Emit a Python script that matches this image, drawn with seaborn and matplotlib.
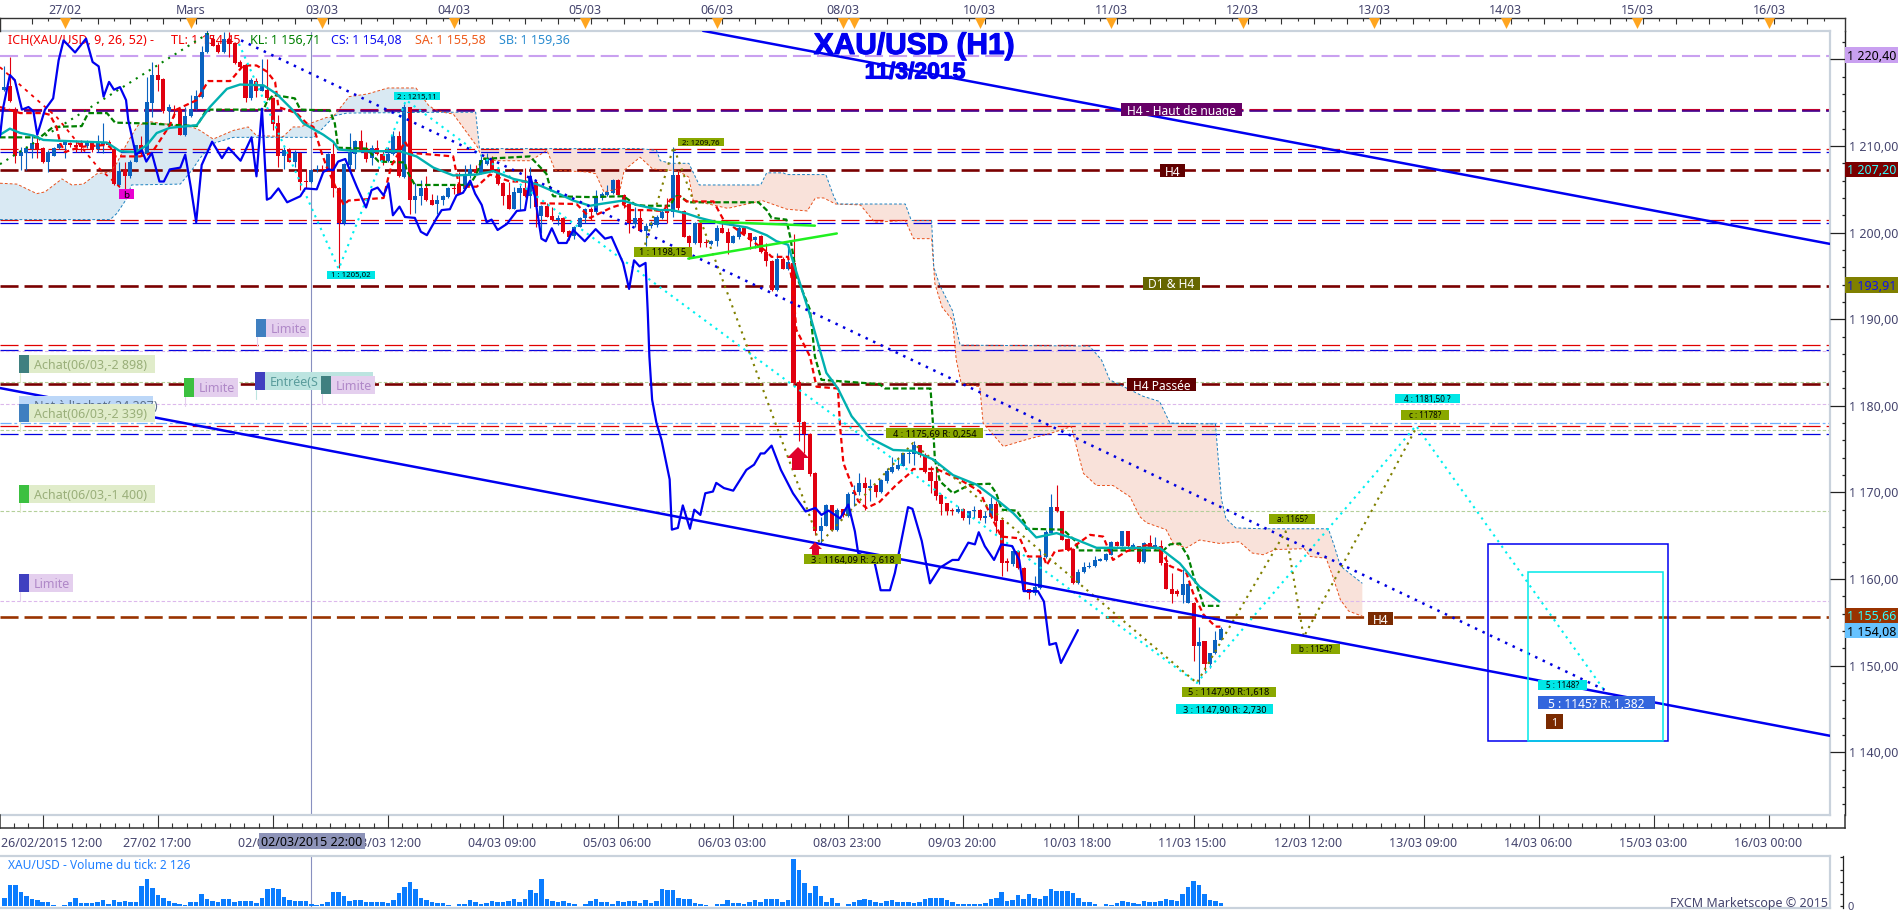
"""XAU/USD (H1) Marketscope chart, 11/3/2015: candles, Ichimoku, wave counts and tick volume."""

import matplotlib

matplotlib.use("Agg")

import matplotlib.patheffects as pe
import matplotlib.pyplot as plt
import numpy as np
import seaborn as sns
from matplotlib.patches import Polygon, Rectangle

# Candles, one per hour bar: body top/bottom, wick top/bottom, b = up, r = down
candle_dir = (
    "brrbbbrrbb" "bbrrrbrbbr" "rbrbbrbbrr" "brrbbbbbrr" "brrrrbrbrr" "rbrbrrbbrb" "rrbbbrrbrr" "bbrbrbbrrb"
    "bbrrbbrbbr" "rrrbbrbrbr" "rbrrbbbrbb" "bbrrrbrbbb" "brbrrrbrrb" "brrbbrrbrr" "rbrbrrrrrb" "brbrbbbrbr"
    "bbbbbbbrrr" "rrrrbrbbrb" "brrrbrrrbb" "bbrrrrbbbb" "bbbrbrbrbr" "brrrrbbrbr" "bbb"
)
body_top = [
    1216.8, 1216.9, 1214.2, 1209.3, 1209.8, 1210.3, 1210.3, 1209.8, 1209.3, 1209.8,
    1210.2, 1210.5, 1210.3, 1210.1, 1210.4, 1210.5, 1210.3, 1210.3, 1210.5, 1210.5,
    1209.6, 1207.1, 1207.2, 1208.2, 1210.1, 1210.1, 1215.1, 1218.2, 1218.2, 1217.7,
    1214.5, 1214.3, 1214.2, 1213.5, 1214.3, 1215.8, 1220.8, 1223.0, 1222.4, 1221.7,
    1222.4, 1222.4, 1221.9, 1219.7, 1219.3, 1217.6, 1217.5, 1217.0, 1216.5, 1215.5,
    1212.6, 1209.5, 1209.6, 1209.2, 1209.2, 1205.9, 1207.2, 1207.4, 1207.3, 1209.1,
    1209.1, 1205.2, 1207.9, 1209.3, 1210.6, 1210.6, 1209.5, 1209.8, 1209.8, 1209.1,
    1209.1, 1211.1, 1211.1, 1214.5, 1214.5, 1204.2, 1205.2, 1205.2, 1203.8, 1203.8,
    1204.2, 1205.2, 1205.2, 1205.6, 1206.8, 1207.3, 1207.3, 1208.4, 1208.6, 1208.6,
    1207.4, 1205.7, 1204.3, 1204.7, 1205.2, 1205.2, 1206.5, 1205.9, 1203.1, 1203.1,
    1201.9, 1201.7, 1201.7, 1200.2, 1200.7, 1201.7, 1202.7, 1202.7, 1204.2, 1204.5,
    1204.7, 1206.1, 1206.1, 1204.3, 1203.3, 1201.7, 1201.7, 1200.8, 1201.1, 1201.8,
    1202.4, 1202.6, 1206.7, 1206.7, 1202.5, 1199.6, 1201.1, 1201.1, 1198.9, 1199.0,
    1200.5, 1200.5, 1200.1, 1199.6, 1200.5, 1200.5, 1199.9, 1199.5, 1199.6, 1197.8,
    1196.7, 1196.9, 1196.9, 1196.6, 1196.5, 1182.7, 1178.1, 1176.8, 1172.2, 1166.1,
    1168.5, 1168.5, 1168.0, 1168.1, 1169.8, 1170.1, 1171.1, 1171.1, 1170.7, 1170.8,
    1171.4, 1172.5, 1172.9, 1173.2, 1174.5, 1174.5, 1175.5, 1175.5, 1174.3, 1172.4,
    1171.3, 1169.7, 1168.8, 1167.9, 1168.1, 1168.1, 1167.8, 1168.0, 1168.0, 1167.2,
    1168.7, 1168.7, 1166.8, 1162.1, 1163.2, 1163.2, 1161.3, 1158.8, 1159.1, 1162.5,
    1165.4, 1168.3, 1168.3, 1167.8, 1164.6, 1163.5, 1160.8, 1161.4, 1161.5, 1162.2,
    1162.3, 1162.9, 1164.3, 1164.3, 1165.5, 1165.5, 1163.9, 1163.8, 1164.1, 1164.1,
    1163.9, 1163.8, 1161.9, 1158.9, 1158.6, 1159.4, 1159.4, 1157.2, 1152.7, 1152.8,
    1151.5, 1153.0, 1154.2,
]
body_bottom = [
    1216.5, 1215.2, 1208.9, 1208.9, 1209.2, 1209.6, 1209.6, 1208.1, 1208.1, 1208.9,
    1209.8, 1210.1, 1210.1, 1209.9, 1209.9, 1210.0, 1209.5, 1209.6, 1210.1, 1210.1,
    1205.6, 1205.5, 1206.5, 1206.5, 1208.2, 1209.1, 1209.1, 1215.0, 1217.6, 1214.0,
    1214.0, 1214.2, 1211.3, 1211.3, 1213.5, 1214.3, 1215.7, 1220.8, 1221.5, 1220.8,
    1220.8, 1221.8, 1219.6, 1219.1, 1215.5, 1215.5, 1216.3, 1216.3, 1215.5, 1212.5,
    1208.8, 1208.9, 1208.2, 1208.2, 1205.8, 1205.8, 1205.8, 1207.2, 1207.2, 1207.3,
    1205.1, 1201.1, 1201.1, 1207.8, 1209.1, 1209.4, 1208.5, 1208.6, 1209.1, 1208.3,
    1208.3, 1209.1, 1206.5, 1206.4, 1203.8, 1203.8, 1204.2, 1203.8, 1203.2, 1203.3,
    1203.8, 1204.1, 1205.0, 1204.5, 1205.0, 1206.8, 1206.9, 1206.9, 1207.9, 1207.2,
    1205.6, 1204.2, 1202.7, 1202.7, 1204.6, 1204.2, 1204.2, 1203.0, 1201.9, 1201.8,
    1201.4, 1201.4, 1200.1, 1199.5, 1199.6, 1200.7, 1201.7, 1202.4, 1202.4, 1204.0,
    1204.3, 1204.6, 1204.3, 1203.3, 1201.1, 1201.0, 1200.2, 1200.2, 1200.8, 1200.9,
    1201.7, 1202.3, 1202.4, 1202.8, 1199.5, 1198.8, 1198.8, 1198.8, 1198.8, 1198.7,
    1199.0, 1200.0, 1198.8, 1198.8, 1199.5, 1199.8, 1199.2, 1199.2, 1197.8, 1196.7,
    1193.4, 1193.4, 1195.8, 1195.8, 1182.6, 1178.1, 1176.8, 1172.1, 1165.6, 1165.6,
    1166.1, 1165.7, 1165.7, 1167.4, 1167.3, 1169.8, 1170.0, 1170.5, 1170.5, 1170.1,
    1170.1, 1171.3, 1172.4, 1172.7, 1173.1, 1174.4, 1174.4, 1174.3, 1172.3, 1171.3,
    1169.6, 1168.7, 1167.8, 1167.8, 1167.7, 1167.1, 1167.1, 1167.8, 1167.0, 1167.1,
    1167.2, 1166.7, 1161.9, 1161.8, 1161.7, 1161.3, 1158.7, 1158.4, 1158.4, 1159.0,
    1162.5, 1165.3, 1167.8, 1164.5, 1163.3, 1159.5, 1159.5, 1160.8, 1161.4, 1161.5,
    1162.1, 1162.2, 1162.8, 1163.8, 1163.8, 1163.8, 1163.7, 1162.0, 1162.0, 1163.7,
    1163.7, 1161.8, 1158.9, 1158.3, 1158.3, 1158.2, 1157.2, 1152.3, 1152.3, 1150.2,
    1150.2, 1151.4, 1152.9,
]
wick_top = [
    1219.2, 1220.3, 1214.5, 1209.9, 1209.9, 1211.3, 1211.1, 1209.9, 1209.5, 1209.9,
    1210.3, 1210.6, 1210.5, 1210.7, 1210.7, 1210.7, 1210.5, 1211.3, 1212.6, 1210.7,
    1209.9, 1208.2, 1208.2, 1208.4, 1210.1, 1211.1, 1218.0, 1219.7, 1219.5, 1217.8,
    1214.8, 1214.7, 1214.3, 1214.5, 1215.9, 1216.5, 1221.5, 1223.4, 1222.8, 1222.0,
    1223.2, 1223.2, 1222.0, 1219.9, 1219.5, 1217.8, 1217.8, 1220.1, 1220.1, 1215.7,
    1213.6, 1209.9, 1209.8, 1209.5, 1209.3, 1207.2, 1207.4, 1207.8, 1207.8, 1209.2,
    1210.3, 1205.3, 1208.0, 1211.5, 1210.7, 1211.8, 1210.5, 1210.1, 1210.7, 1209.5,
    1209.9, 1211.7, 1211.7, 1214.9, 1214.5, 1205.7, 1206.1, 1206.5, 1204.5, 1204.3,
    1204.3, 1205.3, 1205.5, 1207.0, 1207.8, 1207.9, 1207.8, 1209.0, 1209.2, 1208.8,
    1207.5, 1205.9, 1205.9, 1205.3, 1205.5, 1207.5, 1207.6, 1206.1, 1203.2, 1203.4,
    1203.0, 1202.0, 1201.8, 1200.3, 1200.8, 1201.8, 1202.8, 1202.9, 1204.9, 1204.7,
    1205.5, 1206.2, 1206.2, 1204.5, 1203.4, 1203.0, 1202.6, 1201.1, 1201.3, 1202.0,
    1202.6, 1204.0, 1209.9, 1207.2, 1202.6, 1199.7, 1201.2, 1201.2, 1199.3, 1199.2,
    1200.9, 1201.1, 1200.5, 1199.7, 1200.9, 1200.7, 1200.0, 1199.6, 1199.7, 1198.8,
    1196.8, 1197.6, 1197.2, 1198.4, 1199.8, 1183.0, 1178.2, 1176.9, 1172.3, 1167.2,
    1168.7, 1168.6, 1168.2, 1168.1, 1170.1, 1170.9, 1172.2, 1171.8, 1171.6, 1170.9,
    1171.5, 1172.8, 1174.1, 1174.1, 1174.5, 1174.9, 1175.9, 1175.5, 1174.5, 1173.0,
    1173.0, 1169.8, 1168.8, 1168.2, 1168.4, 1168.2, 1167.8, 1168.4, 1168.1, 1167.8,
    1169.5, 1169.0, 1166.8, 1162.4, 1163.4, 1163.4, 1161.4, 1158.8, 1160.3, 1163.4,
    1165.7, 1169.8, 1170.8, 1167.8, 1164.7, 1163.6, 1161.1, 1162.0, 1162.0, 1162.6,
    1162.4, 1163.0, 1164.4, 1164.4, 1165.5, 1165.5, 1164.2, 1163.8, 1164.3, 1165.1,
    1164.9, 1164.5, 1162.8, 1160.7, 1158.8, 1161.1, 1159.5, 1157.4, 1154.4, 1152.8,
    1151.5, 1154.0, 1154.5,
]
wick_bottom = [
    1216.4, 1215.1, 1208.0, 1207.2, 1207.2, 1208.6, 1208.6, 1208.0, 1207.0, 1208.8,
    1209.7, 1208.6, 1209.9, 1209.3, 1209.3, 1209.8, 1209.3, 1209.3, 1209.2, 1209.9,
    1205.5, 1205.3, 1205.0, 1206.3, 1208.2, 1209.0, 1209.0, 1213.4, 1216.3, 1213.8,
    1212.2, 1213.4, 1211.3, 1211.2, 1213.3, 1214.2, 1215.5, 1220.7, 1221.5, 1220.7,
    1220.7, 1220.3, 1219.5, 1219.0, 1215.1, 1215.3, 1215.7, 1216.3, 1215.3, 1211.8,
    1207.6, 1207.4, 1208.1, 1207.6, 1204.9, 1205.1, 1205.7, 1207.0, 1207.2, 1207.2,
    1204.1, 1195.9, 1200.9, 1207.4, 1207.4, 1209.3, 1208.2, 1207.8, 1209.0, 1207.8,
    1208.2, 1209.0, 1206.4, 1206.3, 1202.2, 1202.3, 1203.2, 1203.7, 1203.2, 1202.2,
    1203.2, 1204.0, 1204.5, 1204.5, 1204.9, 1206.3, 1206.8, 1206.8, 1207.8, 1207.0,
    1205.5, 1203.2, 1202.7, 1202.7, 1202.6, 1204.1, 1202.8, 1200.7, 1199.9, 1201.8,
    1201.3, 1200.9, 1200.0, 1199.2, 1199.3, 1200.6, 1201.1, 1201.5, 1202.2, 1203.8,
    1204.2, 1204.5, 1204.3, 1202.8, 1200.0, 1200.7, 1200.2, 1198.4, 1200.5, 1200.7,
    1201.6, 1201.1, 1201.8, 1202.6, 1199.5, 1197.0, 1198.7, 1198.3, 1198.3, 1198.6,
    1198.5, 1199.9, 1197.5, 1198.8, 1199.3, 1199.7, 1198.1, 1198.2, 1197.6, 1196.1,
    1193.3, 1193.3, 1195.8, 1195.7, 1182.4, 1175.9, 1174.5, 1171.9, 1165.1, 1164.1,
    1166.1, 1165.6, 1165.6, 1167.2, 1167.2, 1168.4, 1169.7, 1168.0, 1169.0, 1169.5,
    1169.9, 1171.1, 1172.2, 1172.6, 1173.0, 1173.4, 1173.2, 1174.1, 1172.2, 1169.9,
    1169.1, 1167.4, 1167.4, 1167.4, 1167.6, 1166.8, 1166.3, 1167.0, 1166.8, 1166.5,
    1167.0, 1165.3, 1160.3, 1160.9, 1161.5, 1161.1, 1158.6, 1157.7, 1158.2, 1158.8,
    1162.4, 1165.2, 1167.7, 1164.5, 1163.2, 1159.4, 1159.4, 1160.7, 1161.3, 1161.4,
    1162.1, 1162.1, 1162.8, 1163.8, 1163.8, 1163.7, 1163.6, 1161.9, 1161.9, 1163.6,
    1163.4, 1161.6, 1158.8, 1157.2, 1158.0, 1157.2, 1157.2, 1150.5, 1147.9, 1149.2,
    1149.7, 1151.3, 1152.9,
]

# Tick volume, in hundreds of ticks
volume_hundreds = [
    66, 173, 173, 116, 83, 55, 50, 33, 33, 8, 3, 11, 33, 66, 25, 25, 25, 33, 50, 17, 50, 33, 39, 33, 33,
    165, 223, 149, 91, 66, 44, 25, 17, 8, 33, 33, 99, 55, 41, 33, 58, 58, 33, 41, 41, 39, 25, 66, 140, 149,
    143, 74, 47, 41, 41, 41, 17, 6, 17, 33, 116, 116, 83, 41, 47, 50, 33, 33, 33, 33, 25, 50, 107, 157, 198,
    140, 66, 47, 33, 25, 25, 8, 3, 17, 17, 50, 33, 17, 25, 41, 33, 33, 41, 55, 33, 55, 132, 107, 223, 58,
    44, 33, 41, 25, 17, 3, 17, 39, 58, 33, 33, 17, 41, 33, 41, 41, 25, 50, 25, 41, 140, 135, 135, 66, 58,
    58, 25, 17, 8, 3, 17, 17, 50, 25, 25, 17, 33, 50, 33, 58, 58, 58, 33, 50, 388, 297, 190, 107, 165, 83,
    33, 66, 25, 3, 17, 33, 50, 58, 50, 33, 25, 41, 50, 33, 33, 33, 25, 33, 58, 66, 66, 66, 47, 36,
    17, 17, 17, 17, 17, 25, 58, 66, 116, 41, 50, 91, 58, 99, 66, 58, 83, 140, 124, 124, 124, 107, 66, 33,
    33, 17, 3, 17, 8, 25, 41, 33, 25, 17, 41, 33, 33, 41, 58, 50, 41, 99, 157, 206, 173, 99, 50, 41, 21,
]

# Ichimoku and moving average, hour / price
chikou_hours = [
    -0.8, -0.2, 1.0, 1.9, 3.2, 4.4, 5.3, 6.0, 7.4, 8.9, 9.9, 10.8, 12.9, 14.9, 16.1, 17.2, 18.1, 19.1, 20.0, 21.1,
    22.2, 22.6, 24.0, 25.1, 25.9, 26.9, 28.3, 29.1, 30.2, 32.1, 33.0, 34.0, 35.0, 36.0, 37.9, 39.7, 40.9, 43.1,
    45.1, 46.0, 47.0, 47.9, 48.6, 50.0, 51.6, 54.0, 54.9, 57.0, 58.2, 59.1, 60.0, 60.9, 62.2, 64.3, 66.0, 67.0,
    68.1, 69.2, 70.1, 70.9, 72.1, 73.1, 74.9, 76.0, 77.1, 78.9, 79.8, 81.3, 82.5, 83.7, 85.0, 85.9, 87.1, 88.0,
    88.9, 90.0, 91.7, 93.5, 95.0, 96.0, 96.8, 98.0, 98.8, 99.9, 101.1, 102.6, 103.8, 105.9, 107.9, 109.6, 110.8,
    112.9, 114.0, 114.9, 115.9, 117.0, 117.4, 117.7, 118.2, 119.0, 119.9, 121.4, 121.8, 122.9, 123.8, 125.1,
    125.9, 127.0, 127.9, 129.3, 129.9, 131.3, 133.0, 135.4, 136.8, 138.0, 138.7, 140.0, 141.7, 143.9, 146.2,
    148.0, 149.1, 150.4, 152.5, 154.0, 155.2, 155.8, 158.8, 159.9, 161.6, 162.5, 164.9, 165.7, 167.4, 168.9,
    170.7, 173.0, 174.1, 175.9, 177.1, 177.8, 178.9, 180.6, 181.9, 183.9, 185.2, 186.0, 188.6, 189.7, 190.7,
    191.9, 192.8, 195.9,
]
chikou_price = [
    1211.1, 1214.5, 1218.2, 1217.6, 1214.2, 1214.5, 1214.0, 1211.3, 1214.2, 1215.5, 1219.9, 1222.2, 1220.8, 1222.4,
    1219.7, 1219.2, 1215.7, 1217.4, 1216.5, 1216.8, 1215.3, 1213.0, 1209.0, 1209.5, 1208.2, 1209.2, 1205.9, 1205.9,
    1207.3, 1207.5, 1209.0, 1205.3, 1201.2, 1207.8, 1210.5, 1208.6, 1209.8, 1208.3, 1211.0, 1206.5, 1214.3, 1203.8,
    1204.0, 1205.1, 1203.5, 1204.2, 1205.1, 1205.0, 1207.0, 1207.3, 1207.2, 1208.2, 1208.5, 1205.3, 1202.9, 1204.9,
    1205.2, 1204.3, 1205.7, 1202.0, 1203.0, 1201.8, 1201.7, 1200.1, 1199.7, 1201.7, 1202.6, 1202.7, 1204.3, 1204.6,
    1206.0, 1204.5, 1203.2, 1201.2, 1201.5, 1200.3, 1201.0, 1202.5, 1202.6, 1206.5, 1204.2, 1199.3, 1199.0, 1200.5,
    1198.8, 1198.8, 1200.3, 1199.0, 1200.4, 1199.3, 1199.5, 1196.5, 1193.5, 1196.8, 1196.1, 1196.5, 1190.9, 1185.7,
    1180.7, 1178.0, 1176.1, 1171.5, 1165.7, 1165.9, 1168.5, 1165.8, 1168.0, 1167.4, 1169.9, 1170.1, 1171.1, 1170.5,
    1170.2, 1172.6, 1173.2, 1174.5, 1174.5, 1175.4, 1172.6, 1169.9, 1167.8, 1168.2, 1167.4, 1167.9, 1167.0, 1168.6,
    1165.5, 1163.0, 1161.9, 1158.7, 1158.7, 1160.7, 1168.3, 1168.1, 1164.4, 1159.5, 1161.3, 1162.2, 1162.2, 1164.2,
    1164.0, 1165.4, 1163.8, 1162.2, 1164.0, 1163.8, 1162.2, 1158.6, 1158.6, 1157.4, 1152.4, 1152.6, 1150.3, 1154.1,
]
average_hours = [
    -0.8, 1.0, 2.9, 5.3, 7.1, 10.2, 14.4, 18.7, 21.1, 24.1, 26.0, 27.8, 30.2, 35.1, 37.5, 40.6, 43.0, 47.3, 49.7,
    52.7, 54.6, 58.2, 60.0, 61.0, 64.3, 68.0, 72.2, 75.2, 78.3, 81.9, 86.2, 89.2, 92.9, 97.1, 100.8, 103.8, 106.9,
    108.7, 112.9, 115.4, 119.6, 121.8, 124.5, 126.9, 130.6, 135.5, 139.1, 140.9, 143.0, 143.9, 147.0, 150.0, 152.1,
    154.6, 157.9, 162.2, 165.8, 169.5, 173.1, 177.4, 181.0, 184.1, 188.3, 192.0, 195.0, 199.3, 205.4, 210.8, 214.5,
    218.1, 221.7,
]
average_price = [
    1211.3, 1212.0, 1211.5, 1211.2, 1210.7, 1210.6, 1210.5, 1210.4, 1209.4, 1209.3, 1210.1, 1211.5, 1212.1, 1212.4,
    1214.5, 1216.6, 1217.1, 1217.0, 1216.0, 1214.1, 1212.6, 1211.3, 1210.5, 1209.6, 1209.4, 1209.4, 1209.4, 1208.8,
    1207.5, 1206.6, 1206.7, 1207.1, 1206.2, 1205.6, 1204.6, 1203.7, 1203.1, 1203.3, 1203.7, 1203.2, 1202.6, 1202.6,
    1202.2, 1201.7, 1201.1, 1200.6, 1199.7, 1199.0, 1198.6, 1196.7, 1190.5, 1183.8, 1182.0, 1178.8, 1176.3, 1174.9,
    1174.8, 1173.8, 1172.0, 1170.9, 1169.2, 1167.6, 1164.8, 1165.3, 1164.7, 1163.6, 1163.6, 1163.6, 1161.8, 1159.1,
    1157.4,
]
tenkan_hours = [
    -0.8, 2.9, 7.1, 8.3, 9.5, 10.2, 11.1, 13.8, 18.1, 19.3, 20.2, 24.8, 26.9, 30.2, 31.4, 35.1, 37.2, 41.2, 43.6,
    46.0, 47.9, 49.4, 50.0, 53.3, 55.2, 56.4, 57.9, 58.8, 61.9, 62.8, 69.2, 70.1, 70.7, 73.1, 74.3, 81.9, 82.5,
    83.1, 86.2, 88.6, 92.3, 96.2, 97.1, 104.4, 106.9, 110.8, 112.9, 114.2, 117.0, 120.3, 121.5, 123.3, 124.5,
    129.4, 131.2, 135.5, 139.1, 140.0, 143.0, 143.9, 144.5, 147.0, 148.2, 152.1, 152.5, 153.1, 154.6, 155.8,
    157.3, 159.7, 162.8, 165.2, 165.8, 170.1, 174.3, 178.0, 179.2, 181.9, 185.3, 186.8, 189.6, 190.2, 191.7, 194.4,
    198.1, 200.5, 202.3, 204.8, 208.4, 210.8, 212.7, 215.7, 216.9, 218.8, 221.0, 221.9,
]
tenkan_price = [
    1214.5, 1213.8, 1213.8, 1213.6, 1212.2, 1210.3, 1209.3, 1209.9, 1210.1, 1209.9, 1208.8, 1208.8, 1209.2, 1212.4,
    1214.2, 1215.3, 1217.5, 1217.5, 1219.3, 1219.3, 1218.6, 1217.4, 1214.5, 1213.8, 1212.6, 1212.2, 1209.2, 1207.6,
    1203.2, 1203.7, 1204.0, 1206.5, 1207.8, 1210.5, 1209.2, 1208.8, 1206.8, 1205.3, 1205.3, 1206.7, 1205.9, 1205.9,
    1203.4, 1203.3, 1201.7, 1202.9, 1203.3, 1202.6, 1202.6, 1202.5, 1203.8, 1204.2, 1203.6, 1203.6, 1201.5, 1199.5,
    1197.8, 1197.2, 1197.2, 1193.8, 1188.8, 1185.7, 1182.2, 1182.0, 1177.6, 1173.4, 1170.9, 1169.0, 1168.2, 1168.9,
    1170.9, 1172.2, 1172.7, 1172.7, 1171.5, 1170.1, 1168.4, 1164.9, 1164.7, 1162.6, 1162.6, 1161.6, 1163.2, 1163.4,
    1165.1, 1164.9, 1162.2, 1163.2, 1163.9, 1163.4, 1161.5, 1160.7, 1158.4, 1155.9, 1154.5, 1154.5,
]
kijun_hours = [
    -0.8, 6.5, 8.9, 14.1, 15.3, 18.7, 20.2, 26.0, 35.1, 36.9, 47.3, 47.9, 49.1, 53.0, 54.0, 59.4, 60.3, 60.9, 66.1,
    68.3, 73.1, 73.4, 74.9, 84.9, 86.2, 87.1, 95.9, 98.9, 99.9, 100.2, 106.9, 113.0, 115.2, 117.0, 121.5, 122.4,
    123.3, 124.8, 137.6, 139.1, 140.0, 142.7, 143.4, 144.6, 147.0, 147.9, 149.1, 159.7, 160.7, 169.0, 169.4, 169.8,
    170.7, 173.1, 176.2, 179.8, 181.0, 182.0, 184.7, 186.2, 186.5, 193.2, 195.6, 195.9, 211.5, 212.7, 214.5, 216.0,
    217.2, 218.4, 218.8, 221.7,
]
kijun_price = [
    1211.0, 1211.0, 1212.2, 1212.3, 1213.8, 1213.8, 1212.7, 1212.6, 1212.3, 1214.2, 1214.2, 1215.1, 1215.9, 1215.5,
    1214.2, 1214.1, 1212.6, 1209.8, 1209.7, 1208.2, 1208.1, 1207.2, 1205.5, 1205.5, 1206.8, 1208.5, 1208.8, 1206.8,
    1204.5, 1204.2, 1204.1, 1204.2, 1203.2, 1203.1, 1203.1, 1204.2, 1204.2, 1203.5, 1203.5, 1202.6, 1201.7, 1201.5,
    1199.5, 1194.9, 1191.1, 1185.7, 1183.0, 1182.5, 1182.0, 1182.0, 1178.4, 1173.8, 1171.3, 1169.9, 1170.9, 1171.0,
    1169.9, 1168.0, 1167.9, 1166.5, 1165.8, 1165.7, 1164.3, 1163.3, 1163.3, 1164.0, 1164.1, 1162.6, 1159.9, 1157.8,
    1156.9, 1156.9,
]
senkou_a_hours = [
    -0.8, 2.3, 5.9, 7.4, 10.5, 12.3, 14.4, 16.9, 19.3, 20.5, 22.2, 23.2, 24.4, 26.6, 32.1, 34.2, 35.7, 38.1, 41.8,
    44.5, 46.0, 50.9, 52.7, 54.0, 58.8, 59.9, 62.9, 66.2, 70.0, 75.1, 77.4, 78.3, 80.0, 81.9, 86.3, 87.1, 89.7, 96.0,
    99.0, 100.5, 106.4, 107.9, 109.4, 112.4, 113.1, 116.0, 118.2, 119.7, 122.7, 124.9, 125.7, 132.0, 138.3, 142.8,
    146.5, 148.0, 149.5, 151.7, 156.2, 158.8, 164.4, 165.9, 169.2, 169.8, 171.1, 173.0, 173.7, 174.6, 178.0, 178.6,
    182.3, 186.5, 190.8, 194.7, 195.3, 196.9, 199.3, 202.3, 205.4, 207.2, 208.4, 212.0, 213.3, 215.7, 218.1, 221.8,
    225.4, 227.7, 229.7, 231.9, 237.2, 238.3, 241.2, 242.4, 243.8, 245.3, 247.8,
]
senkou_a_price = [
    1205.7, 1205.6, 1204.5, 1204.7, 1206.2, 1205.5, 1205.6, 1206.8, 1207.0, 1208.0, 1210.1, 1211.2, 1212.4, 1212.8,
    1212.3, 1212.2, 1211.8, 1210.8, 1211.8, 1212.2, 1211.2, 1211.1, 1212.2, 1212.2, 1213.3, 1213.3, 1215.7, 1216.0,
    1216.7, 1216.7, 1214.7, 1214.3, 1213.9, 1213.7, 1209.9, 1208.7, 1208.3, 1208.3, 1209.5, 1207.2, 1207.0, 1206.8,
    1204.7, 1205.1, 1207.2, 1208.7, 1207.4, 1207.2, 1207.2, 1206.4, 1203.7, 1202.8, 1203.7, 1202.7, 1202.5, 1204.0,
    1204.0, 1203.3, 1203.2, 1201.2, 1201.4, 1199.3, 1199.3, 1194.1, 1191.4, 1189.9, 1185.3, 1182.6, 1182.2, 1178.0,
    1175.3, 1176.1, 1176.8, 1177.6, 1176.1, 1172.2, 1170.8, 1170.8, 1169.5, 1167.2, 1166.5, 1165.7, 1164.1, 1163.6,
    1164.5, 1164.1, 1164.3, 1163.0, 1162.8, 1163.4, 1163.5, 1162.6, 1162.4, 1160.3, 1157.6, 1156.3, 1155.7,
]
senkou_b_hours = [
    -0.8, 19.3, 20.5, 22.2, 23.2, 32.1, 34.2, 35.7, 38.1, 41.8, 56.5, 60.3, 62.5, 80.0, 86.0, 86.7, 116.0, 119.0,
    119.7, 121.6, 124.9, 126.8, 138.0, 139.1, 142.1, 142.8, 149.9, 151.4, 152.1, 164.4, 165.5, 169.2, 169.6, 170.7,
    173.0, 174.4, 198.0, 200.2, 201.7, 207.8, 210.8, 212.7, 221.0, 222.1, 222.9, 224.7, 229.7, 241.6, 242.7, 243.8,
    247.8,
]
senkou_b_price = [
    1201.5, 1201.5, 1202.2, 1203.8, 1205.5, 1205.6, 1207.2, 1208.6, 1210.3, 1211.0, 1211.0, 1213.5, 1213.8, 1213.9,
    1213.9, 1209.7, 1209.7, 1209.5, 1208.3, 1208.0, 1208.0, 1205.5, 1205.5, 1206.9, 1206.9, 1206.7, 1206.7, 1204.1,
    1203.3, 1203.3, 1201.4, 1201.4, 1196.0, 1193.9, 1191.0, 1187.0, 1186.9, 1185.3, 1183.0, 1181.1, 1180.5, 1178.0,
    1177.9, 1169.2, 1167.0, 1165.9, 1165.8, 1165.8, 1163.8, 1161.5, 1159.5,
]
cloud_cross_hour = 80.0

# Wave counts and drawn trend lines, hour / price
cyan_wave_hours = [42.8, 61.0, 73.3, 217.6, 257.6, 291.9]
cyan_wave_price = [1221.8, 1195.8, 1215.3, 1148.0, 1177.7, 1147.2]
olive_wave_hours = [116.9, 122.1, 148.8, 165.8, 217.6, 233.8, 237.1, 257.6]
olive_wave_price = [1198.6, 1209.9, 1164.1, 1175.7, 1148.0, 1165.5, 1153.3, 1177.4]
green_dots_hours = [-0.8, 37.2]
green_dots_price = [1207.9, 1223.0]
red_dots_hours = [-0.8, 9.6, 17.0, 21.5]
red_dots_price = [1219.1, 1213.3, 1207.6, 1205.0]
upper_trend_hours = [127.5, 333.1]
upper_trend_price = [1223.3, 1198.7]
lower_trend_hours = [-0.8, 333.1]
lower_trend_price = [1182.05, 1141.9]
dotted_trend_hours = [43.2, 292.0]
dotted_trend_price = [1222.2, 1147.2]
green_low_hours = [124.8, 151.9]
green_low_price = [1197.0, 1199.9]
green_high_hours = [126.9, 147.9]
green_high_price = [1201.3, 1200.8]
cursor_hour = 56

# Target boxes: first hour, last hour, top price, bottom price
blue_box = [270.8, 303.6, 1164.0, 1141.3]
cyan_box = [278.0, 302.7, 1160.8, 1141.3]

# Horizontal levels
lavender_level = [1220.40]
crimson_level = [1214.2]
navy_level = [1214.0]
dark_red_levels = [1207.20, 1193.85, 1182.55]
brown_level = [1155.66]
thin_red_levels = [1209.6, 1201.5, 1187.0, 1177.7]
thin_blue_levels = [1209.3, 1201.1, 1186.5, 1176.7]
order_limit_levels = [1186.3, 1180.2, 1157.5]
order_buy_levels = [1182.8, 1177.2, 1167.8]
order_net_level = [1178.05]

# Axes
day_flag_hours = [11, 34, 58, 82, 106, 130, 153, 155, 178, 202, 226, 250, 274, 298, 322]
day_label_hours = [11, 34, 58, 82, 106, 130, 153, 178, 202, 226, 250, 274, 298, 322]
day_labels = [
    "27/02", "Mars", "03/03", "04/03", "05/03", "06/03", "08/03", "10/03",
    "11/03", "12/03", "13/03", "14/03", "15/03", "16/03",
]
time_tick_hours = [7, 28, 49, 70, 91, 112, 133, 154, 175, 196, 217, 238, 259, 280, 301, 322]
time_labels = [
    "26/02/2015 12:00", "27/02 17:00", "02/03 15:00", "03/03 12:00", "04/03 09:00", "05/03 06:00",
    "06/03 03:00", "08/03 23:00", "09/03 20:00", "10/03 18:00", "11/03 15:00", "12/03 12:00",
    "13/03 09:00", "14/03 06:00", "15/03 03:00", "16/03 00:00",
]
price_ticks = [1140, 1150, 1160, 1170, 1180, 1190, 1200, 1210, 1220]
volume_ticks = [0, 10000, 20000, 30000, 40000]

WIDTH, HEIGHT = 1903, 910
PX_PER_HOUR = 5.48
HOUR_AT_ZERO = -0.8
PX_PER_DOLLAR = 8.66
TEXT_SLATE = "#45456e"

sns.set_theme(style="white")
plt.rcParams["font.family"] = ["Noto Sans", "DejaVu Sans"]
plt.rcParams["lines.scale_dashes"] = False
plt.rcParams["axes.unicode_minus"] = False

fig = plt.figure(figsize=(WIDTH / 100, HEIGHT / 100), dpi=100, facecolor="white")


def px_axes(x0, y0, x1, y1, **kwargs):
    return fig.add_axes([x0 / WIDTH, 1 - y1 / HEIGHT, (x1 - x0) / WIDTH, (y1 - y0) / HEIGHT], **kwargs)


def hours_range(x0, x1):
    return HOUR_AT_ZERO + x0 / PX_PER_HOUR, HOUR_AT_ZERO + x1 / PX_PER_HOUR


def draw_line(ax, hours, prices, color, width, dash=None, z=5):
    sns.lineplot(
        x=hours, y=prices, color=color, linewidth=width, linestyle=dash if dash else "-",
        sort=False, estimator=None, errorbar=None, legend=False, zorder=z, ax=ax,
    )


def draw_levels(ax, prices, color, width, dash, z=2):
    for price in prices:
        ax.axhline(price, color=color, linewidth=width, linestyle=dash, zorder=z)


def style_spines(ax, color, width, sides):
    for side, spine in ax.spines.items():
        spine.set_visible(side in sides)
        spine.set_color(color)
        spine.set_linewidth(width)


ax = px_axes(0, 31, 1830, 815)
ax.set_xlim(*hours_range(0, 1830))
ax.set_ylim(1210 - (815 - 146) / PX_PER_DOLLAR, 1210 + (146 - 31) / PX_PER_DOLLAR)
ax.set_xticks([])
ax.set_yticks([])
style_spines(ax, "#c9d2dc", 1.6, ("top", "bottom", "right"))

# Cloud
sa_hours, sa_price = np.array(senkou_a_hours), np.array(senkou_a_price)
sb_hours, sb_price = np.array(senkou_b_hours), np.array(senkou_b_price)
early_a, early_b = sa_hours <= cloud_cross_hour, sb_hours <= cloud_cross_hour
late_a, late_b = sa_hours >= cloud_cross_hour, sb_hours >= cloud_cross_hour
ax.fill(
    np.r_[sa_hours[early_a], sb_hours[early_b][::-1]], np.r_[sa_price[early_a], sb_price[early_b][::-1]],
    color="#d9e9f3", linewidth=0, zorder=1,
)
ax.fill(
    np.r_[sa_hours[late_a], sb_hours[late_b][::-1]], np.r_[sa_price[late_a], sb_price[late_b][::-1]],
    color="#f9e2da", linewidth=0, zorder=1,
)

# Levels
thick_dash = (0, (13, 4.3))
thin_dash = (0, (13, 4.3))
draw_levels(ax, lavender_level, "#c9a0f0", 1.5, thick_dash)
draw_levels(ax, crimson_level, "#c00030", 1.5, thick_dash)
draw_levels(ax, navy_level, "#400090", 1.2, thick_dash)
draw_levels(ax, dark_red_levels, "#7a0000", 1.9, thick_dash)
draw_levels(ax, brown_level, "#993300", 1.9, thick_dash)
draw_levels(ax, thin_red_levels, "#e00000", 0.9, thin_dash)
draw_levels(ax, thin_blue_levels, "#0000e0", 0.9, thin_dash)
draw_levels(ax, order_limit_levels, "#dcb8ec", 0.8, (0, (2.5, 1.5)))
draw_levels(ax, order_buy_levels, "#b4cf9a", 0.8, (0, (2.5, 1.5)))
draw_levels(ax, order_net_level, "#70b0ff", 0.9, (0, (8, 2, 2, 2)))

# Cursor
ax.axvline(cursor_hour, color="#8890c0", linewidth=0.8, zorder=2)

# Candles
candle_hours = np.arange(len(candle_dir))
candle_colors = ["#0a62c0" if d == "b" else "#e00010" for d in candle_dir]
top, bottom = np.array(body_top), np.array(body_bottom)
ax.vlines(candle_hours, wick_bottom, wick_top, colors=candle_colors, linewidth=0.8, zorder=3)
ax.bar(candle_hours, np.maximum(top - bottom, 0.12), bottom=bottom, width=0.74, color=candle_colors, linewidth=0, zorder=3)

# Ichimoku
draw_line(ax, senkou_a_hours, senkou_a_price, "#e8501a", 0.7, (0, (2, 1.5)), z=4)
draw_line(ax, senkou_b_hours, senkou_b_price, "#1a80c0", 0.7, (0, (2, 1.5)), z=4)
draw_line(ax, kijun_hours, kijun_price, "#008000", 1.6, (0, (4, 2)), z=5)
draw_line(ax, tenkan_hours, tenkan_price, "#f00000", 1.6, (0, (4, 2.5)), z=5)
draw_line(ax, average_hours, average_price, "#00b0b0", 1.7, z=6)
draw_line(ax, chikou_hours, chikou_price, "#0000f0", 1.6, z=6)

# Wave counts and trend lines
draw_line(ax, green_dots_hours, green_dots_price, "#008000", 1.5, (0, (1.5, 4)), z=4)
draw_line(ax, red_dots_hours, red_dots_price, "#f00000", 1.3, (0, (2.5, 3.5)), z=4)
draw_line(ax, cyan_wave_hours, cyan_wave_price, "#00f0f0", 1.5, (0, (1.6, 3.4)), z=5)
draw_line(ax, olive_wave_hours, olive_wave_price, "#808000", 1.5, (0, (1.6, 3.4)), z=5)
draw_line(ax, dotted_trend_hours, dotted_trend_price, "#0000e0", 1.8, (0, (1.8, 4.2)), z=6)
draw_line(ax, upper_trend_hours, upper_trend_price, "#0000f0", 1.8, z=7)
draw_line(ax, lower_trend_hours, lower_trend_price, "#0000f0", 1.8, z=7)
draw_line(ax, green_low_hours, green_low_price, "#20f020", 1.8, z=7)
draw_line(ax, green_high_hours, green_high_price, "#20f020", 1.8, z=7)

for box, color in ((blue_box, "#0000f0"), (cyan_box, "#00e8e8")):
    ax.add_patch(
        Rectangle((box[0], box[3]), box[1] - box[0], box[2] - box[3], fill=False, edgecolor=color, linewidth=1.1, zorder=7)
    )
ax.set_xlim(*hours_range(0, 1830))
ax.set_ylim(1210 - (815 - 146) / PX_PER_DOLLAR, 1210 + (146 - 31) / PX_PER_DOLLAR)
ax.set_xlabel("")
ax.set_ylabel("")

# Price scale on the right; the 1 220 label sits behind the 1 220,40 box, so it stays blank
ax_price = px_axes(1830, 31, 1845, 815)
ax_price.set_ylim(ax.get_ylim())
ax_price.set_xticks([])
ax_price.patch.set_alpha(0)
style_spines(ax_price, "#222222", 1.0, ("right",))
ax_price.yaxis.tick_right()
ax_price.set_yticks(price_ticks)
ax_price.set_yticks(np.arange(1134, 1224, 2), minor=True)
ax_price.set_yticklabels([f"{p // 1000} {p % 1000:03d},00" if p != 1220 else "" for p in price_ticks])
ax_price.tick_params(axis="y", which="major", direction="in", right=True, length=10.8, width=0.9, color="#222222", pad=3, labelsize=9, labelcolor=TEXT_SLATE)
ax_price.tick_params(axis="y", which="minor", direction="in", right=True, length=2.4, width=0.9, color="#222222")

# Day flags along the top
ax_days = px_axes(0, 18, 1845, 31)
ax_days.set_xlim(*hours_range(0, 1845))
ax_days.set_ylim(0, 1)
ax_days.patch.set_alpha(0)
style_spines(ax_days, "#333333", 1.0, ("top", "right", "left"))
ax_days.set_yticks([])
ax_days.set_xticks(np.arange(5, 335, 6))
ax_days.set_xticks(np.arange(8, 335, 6), minor=True)
ax_days.set_xticklabels([])
ax_days.tick_params(axis="x", which="major", direction="in", top=True, bottom=False, length=4.2, width=0.8, color="#333333")
ax_days.tick_params(axis="x", which="minor", direction="in", top=True, bottom=False, length=2.2, width=0.8, color="#333333")
sns.scatterplot(
    x=day_flag_hours, y=[0.62] * len(day_flag_hours), marker="v", s=62, color="#ffa51f", linewidth=0,
    legend=False, clip_on=False, zorder=5, ax=ax_days,
)
ax_days.set_xlim(*hours_range(0, 1845))
ax_days.set_ylim(0, 1)

# Time scale under the chart
ax_time = px_axes(0, 815, 1845, 828)
ax_time.set_xlim(*hours_range(0, 1845))
ax_time.set_yticks([])
ax_time.patch.set_alpha(0)
style_spines(ax_time, "#333333", 1.1, ("bottom", "right", "left"))
ax_time.set_xticks(time_tick_hours)
ax_time.set_xticks(np.arange(7 - 2.625 * 2, 335, 2.625), minor=True)
ax_time.set_xticklabels([])
ax_time.tick_params(axis="x", which="major", direction="in", bottom=True, length=9.4, width=0.8, color="#333333")
ax_time.tick_params(axis="x", which="minor", direction="in", bottom=True, length=3.6, width=0.8, color="#333333")

# Volume panel
ax_vol = px_axes(0, 856, 1830, 908)
volume_ticks_values = np.array(volume_hundreds) * 100
sns.barplot(
    x=np.arange(len(volume_ticks_values)), y=volume_ticks_values, native_scale=True, color="#0a7cff",
    saturation=1, width=0.82, linewidth=0, errorbar=None, zorder=3, ax=ax_vol,
)
ax_vol.axvline(cursor_hour, color="#8890c0", linewidth=0.8, zorder=2)
ax_vol.set_xlim(*hours_range(0, 1830))
ax_vol.set_ylim(-1650, 41200)
ax_vol.set_xticks([])
ax_vol.set_yticks([])
ax_vol.set_xlabel("")
ax_vol.set_ylabel("")
style_spines(ax_vol, "#c9d2dc", 1.6, ("top", "bottom", "right"))

ax_vol_scale = px_axes(1830, 856, 1843, 908)
ax_vol_scale.set_ylim(ax_vol.get_ylim())
ax_vol_scale.set_xticks([])
ax_vol_scale.patch.set_alpha(0)
style_spines(ax_vol_scale, "#222222", 0.9, ("right",))
ax_vol_scale.yaxis.tick_right()
ax_vol_scale.set_yticks(volume_ticks)
ax_vol_scale.set_yticklabels(["0", "", "", "", ""])
ax_vol_scale.tick_params(axis="y", direction="in", right=True, length=2.4, width=0.9, color="#222222", pad=3, labelsize=8, labelcolor=TEXT_SLATE)

# Everything written on top of the chart is placed in image pixels
overlay = fig.add_axes([0, 0, 1, 1], zorder=20)
overlay.set_xlim(0, WIDTH)
overlay.set_ylim(HEIGHT, 0)
overlay.axis("off")


def tag(x0, y0, x1, y1, label, bg, fg="black", size=6.6, z=3):
    overlay.add_patch(Rectangle((x0, y0), x1 - x0, y1 - y0, facecolor=bg, edgecolor="none", zorder=z))
    overlay.text((x0 + x1) / 2, (y0 + y1) / 2, label, color=fg, fontsize=size, ha="center", va="center_baseline", zorder=z + 0.1)


def order_flag(x0, y0, x1, y1, swatch, bg, fg, label, z=2):
    overlay.plot([x0 + 0.5, x0 + 0.5], [y1, y1 + 9], color=bg, linewidth=0.8, zorder=z)
    overlay.add_patch(Rectangle((x0, y0), x1 - x0, y1 - y0, facecolor=bg, edgecolor="none", zorder=z))
    overlay.add_patch(Rectangle((x0, y0), 10, y1 - y0, facecolor=swatch, edgecolor="none", zorder=z))
    overlay.text(x0 + 15, (y0 + y1) / 2, label, color=fg, fontsize=9, ha="left", va="center_baseline", zorder=z)


# Day and time labels
for hour, label in zip(day_label_hours, day_labels):
    overlay.text(4.4 + PX_PER_HOUR * hour, 9, label, color=TEXT_SLATE, fontsize=9, ha="center", va="center_baseline")
overlay.text(1, 842, time_labels[0], color=TEXT_SLATE, fontsize=9, ha="left", va="center_baseline")
for hour, label in zip(time_tick_hours[1:], time_labels[1:]):
    overlay.text(4.4 + PX_PER_HOUR * hour - 1, 842, label, color=TEXT_SLATE, fontsize=9, ha="center", va="center_baseline")
tag(259, 833, 365, 849, "02/03/2015 22:00", "#8d93b8", "black", 9)

# Indicator read-out, underneath the indicator lines
for x, label, color in (
    (8, "ICH(XAU/USD, 9, 26, 52) -", "#f00000"),
    (171, "TL: 1 154,45", "#f00000"),
    (250, "KL: 1 156,71", "#008000"),
    (331, "CS: 1 154,08", "#1010f0"),
    (415, "SA: 1 155,58", "#ee5a1a"),
    (499, "SB: 1 159,36", "#2a8cd0"),
):
    ax.text(x, 39, label, color=color, fontsize=9, ha="left", va="center_baseline", zorder=2.5, transform=overlay.transData)

# Title
outline = [pe.withStroke(linewidth=0.8, foreground="#0000f0")]
overlay.text(914, 46, "XAU/USD (H1)", color="#0000f0", fontsize=21.5, fontweight="bold", family="Liberation Sans", ha="center", va="center", path_effects=outline)
overlay.text(915, 72, "11/3/2015", color="#0000f0", fontsize=16.5, fontweight="bold", family="Liberation Sans", ha="center", va="center", path_effects=outline)

# Resting orders
order_flag(19, 396, 153, 414, "#bcd7f8", "#bcd7f8", "#5a6f8a", "Net à l'achat(-24 207)")
order_flag(256, 319, 309, 337, "#3f7fc0", "#e4cfee", "#b088c8", "Limite")
order_flag(19, 355, 155, 373, "#3f8080", "#e0ecca", "#9aaf7a", "Achat(06/03,-2 898)")
order_flag(184, 378, 238, 397, "#3cc040", "#e4cfee", "#b088c8", "Limite")
order_flag(255, 372, 373, 390, "#4040c0", "#bce4e0", "#5a9c9c", "Entrée(S")
order_flag(321, 376, 375, 394, "#3f8080", "#e4cfee", "#b088c8", "Limite", z=2.2)
order_flag(19, 404, 155, 422, "#3f7fc0", "#e0ecca", "#9aaf7a", "Achat(06/03,-2 339)", z=2.1)
order_flag(19, 485, 155, 503, "#3cc040", "#e0ecca", "#9aaf7a", "Achat(06/03,-1 400)")
order_flag(19, 574, 73, 592, "#4040c0", "#e4cfee", "#b088c8", "Limite")

# Level notes
tag(1121, 103, 1242, 116, "H4 - Haut de nuage", "#660066", "white", 8.6)
tag(1160, 164, 1185, 177, "H4", "#600000", "white", 8.6)
tag(1143, 277, 1200, 290, "D1 & H4", "#666600", "white", 8.6)
tag(1127, 378, 1196, 391, "H4 Passée", "#600000", "white", 8.6)
tag(1368, 612, 1393, 625, "H4", "#7a2a00", "white", 8.6)

# Wave notes
lime, aqua = "#8aa800", "#00e6e6"
tag(394, 92, 440, 100, "2 : 1215,11", aqua, size=5.6)
tag(327, 271, 375, 279, "1 : 1205,02", aqua, size=5.6)
tag(119, 189, 134, 199, "b", "#e800d0", size=7)
tag(634, 247, 692, 257, "1 : 1198,15", lime, size=6.6)
tag(678, 138, 724, 146, "2: 1209,76", lime, size=5.6)
tag(886, 428, 983, 438, "4 : 1175,69 R: 0,254", lime, size=6.6)
tag(804, 554, 901, 564, "3 : 1164,09 R: 2,618", lime, size=6.6)
tag(1182, 687, 1276, 697, "5 : 1147,90 R:1,618", lime, size=6.6)
tag(1176, 704, 1273, 714, "3 : 1147,90 R: 2,730", aqua, size=6.6)
tag(1269, 514, 1315, 524, "a: 1165?", lime, size=5.8)
tag(1291, 644, 1340, 654, "b : 1154?", lime, size=5.8)
tag(1401, 410, 1449, 420, "c : 1178?", lime, size=5.8)
tag(1395, 394, 1460, 403, "4 : 1181,50 ?", aqua, size=5.8)
tag(1538, 680, 1587, 690, "5 : 1148?", aqua, size=5.8)
tag(1538, 696, 1655, 709, "5 : 1145? R: 1,382", "#3366dd", "white", 8.6)
tag(1546, 714, 1563, 729, "1", "#7a2a00", "white", 7.5)

# Trade arrows
arrow_color = "#e0002a"
overlay.add_patch(Polygon([(798, 447), (809, 458), (804, 458), (804, 470), (792, 470), (792, 458), (787, 458)], facecolor=arrow_color, edgecolor="none", zorder=3))
overlay.add_patch(Polygon([(815, 542), (822, 549), (819, 549), (819, 555), (812, 555), (812, 549), (809, 549)], facecolor=arrow_color, edgecolor="none", zorder=3))

# Price boxes on the scale
tag(1845, 47, 1898, 63, "1 220,40", "#c9a0f0", "black", 9)
tag(1845, 162, 1898, 177, "1 207,20", "#7a0000", "#30ffff", 9)
tag(1845, 277, 1898, 293, "1 193,91", "#808000", "#1010f0", 9)
tag(1845, 608, 1898, 623, "1 155,66", "#993300", "#30ffff", 9)
tag(1845, 623, 1898, 638, "1 154,08", "#66c2ff", "black", 9)

# Volume captions
overlay.text(8, 864, "XAU/USD - Volume du tick: 2 126", color="#1e7fff", fontsize=8.6, ha="left", va="center_baseline")
overlay.text(1828, 902, "FXCM Marketscope © 2015", color=TEXT_SLATE, fontsize=9, ha="right", va="center_baseline")

fig.savefig("out.png", dpi=100, facecolor="white")
plt.close(fig)
